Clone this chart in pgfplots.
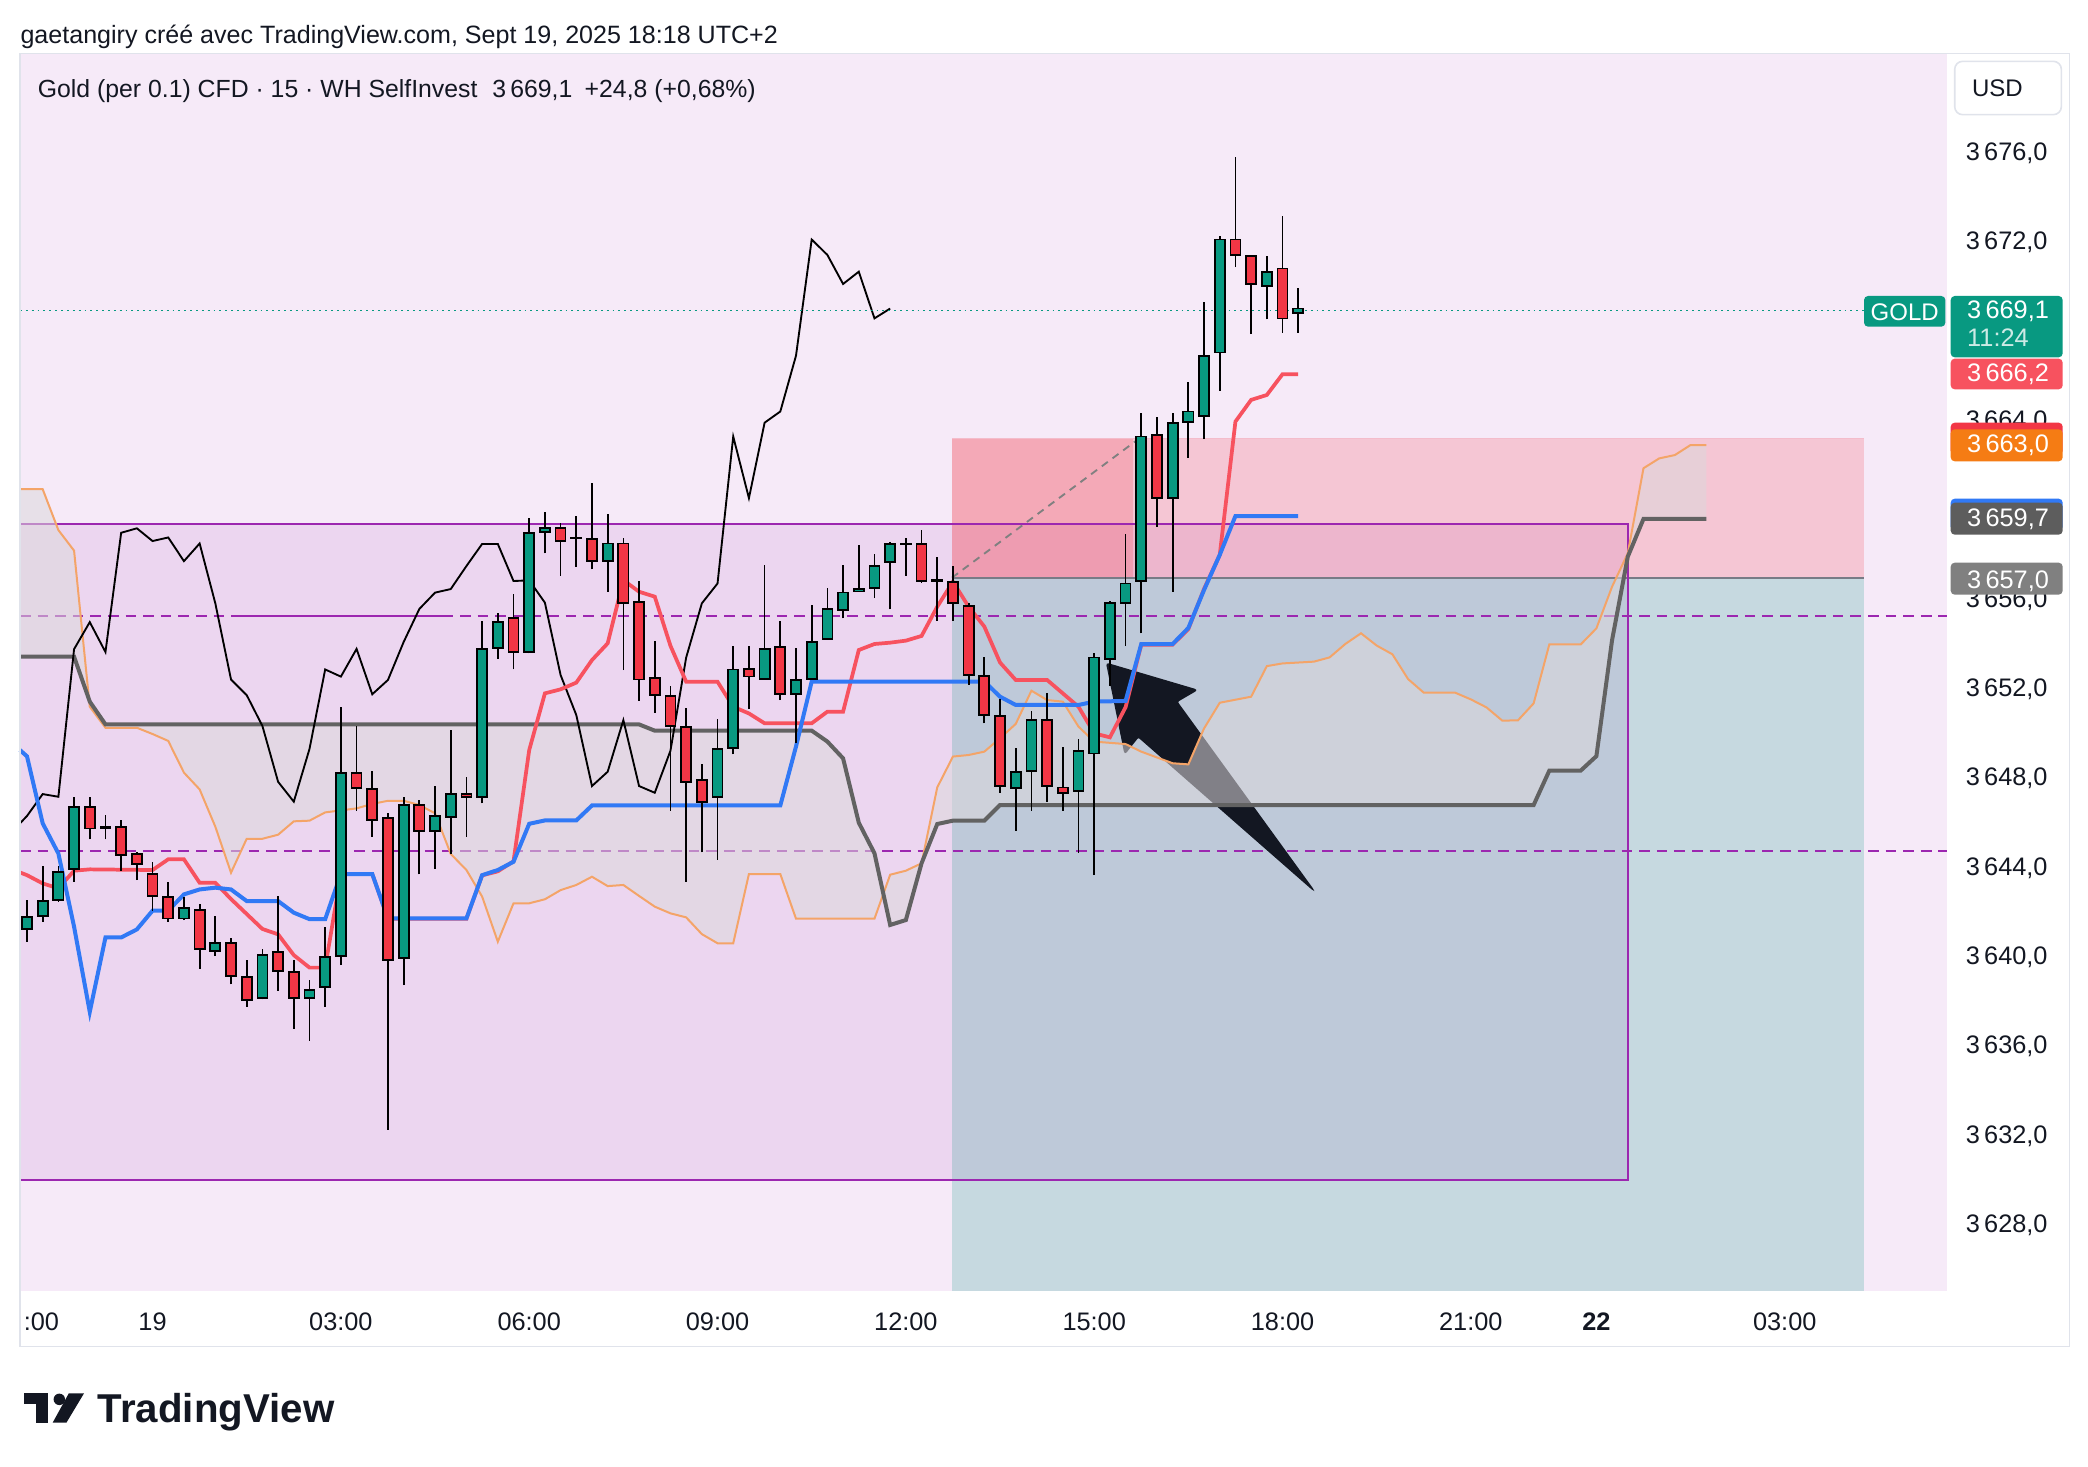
\documentclass[border=0pt]{standalone}
\usepackage{pgfplots}
\pgfplotsset{compat=1.18}
\usepackage{pgfplotstable}
\usepackage{fontspec}
\setmainfont{Liberation Sans}

\definecolor{bgpink}{RGB}{246,234,248}
\definecolor{tvgreen}{HTML}{089981}
\definecolor{tvred}{HTML}{F23645}
\definecolor{tenkan}{HTML}{F7525F}
\definecolor{kijun}{HTML}{3179F5}
\definecolor{senkA}{RGB}{244,164,104}
\definecolor{senkB}{RGB}{98,98,98}
\definecolor{purp}{HTML}{9C27B0}
\definecolor{cloudc}{RGB}{220,216,219}
\definecolor{bordgray}{RGB}{224,227,235}
\definecolor{entrygray}{HTML}{787B86}
\definecolor{tvtext}{HTML}{131722}
\definecolor{orangelab}{RGB}{245,124,20}
\definecolor{dgraylab}{RGB}{93,93,93}
\definecolor{graylab}{RGB}{128,128,128}

\newcommand{\lab}{\fontsize{9.5}{11}\selectfont}

\pgfplotstableread{
i O H L C
0 3641.27 3642.56 3640.70 3641.80
1 3641.85 3644.09 3641.59 3642.52
2 3642.56 3644.09 3642.49 3643.82
3 3643.95 3647.16 3643.39 3646.74
4 3646.74 3647.16 3645.28 3645.77
5 3645.80 3646.36 3645.28 3645.82
6 3645.85 3646.15 3643.88 3644.58
7 3644.62 3644.73 3643.46 3644.18
8 3643.74 3644.25 3642.07 3642.74
9 3642.70 3643.36 3641.59 3641.74
10 3641.74 3642.71 3641.67 3642.22
11 3642.13 3642.39 3639.48 3640.37
12 3640.28 3641.85 3640.06 3640.65
13 3640.65 3640.86 3638.79 3639.16
14 3639.13 3639.88 3637.79 3638.09
15 3638.19 3640.37 3638.12 3640.12
16 3640.25 3642.74 3638.51 3639.39
17 3639.36 3639.88 3636.80 3638.19
18 3638.19 3638.98 3636.27 3638.53
19 3638.68 3641.37 3637.79 3640.03
20 3640.06 3651.19 3639.65 3648.24
21 3648.24 3650.36 3646.56 3647.59
22 3647.55 3648.34 3645.40 3646.15
23 3646.25 3646.45 3632.27 3639.88
24 3639.98 3647.16 3638.76 3646.82
25 3646.82 3647.04 3643.71 3645.65
26 3645.65 3647.67 3643.97 3646.33
27 3646.27 3650.18 3644.62 3647.31
28 3647.31 3648.09 3645.40 3647.19
29 3647.19 3655.06 3646.89 3653.80
30 3653.86 3655.43 3653.38 3655.01
31 3655.21 3656.25 3652.89 3653.67
32 3653.67 3659.65 3653.61 3659.01
33 3659.06 3659.92 3658.09 3659.21
34 3659.24 3659.43 3657.09 3658.64
35 3658.78 3659.76 3657.49 3658.80
36 3658.73 3661.22 3657.37 3657.74
37 3657.74 3659.83 3656.37 3658.53
38 3658.53 3658.76 3652.86 3655.85
39 3655.92 3656.85 3651.49 3652.44
40 3652.52 3654.16 3650.95 3651.74
41 3651.70 3652.15 3646.56 3650.36
42 3650.33 3651.15 3643.38 3647.86
43 3647.94 3648.64 3644.70 3646.97
44 3647.19 3650.65 3644.38 3649.33
45 3649.38 3653.94 3649.09 3652.89
46 3652.91 3653.94 3651.11 3652.57
47 3652.45 3657.57 3652.42 3653.81
48 3653.91 3655.06 3651.52 3651.78
49 3651.78 3653.84 3649.58 3652.42
50 3652.45 3655.78 3652.42 3654.12
51 3654.27 3656.52 3654.24 3655.60
52 3655.55 3657.57 3655.18 3656.33
53 3656.38 3658.47 3656.38 3656.49
54 3656.55 3658.06 3656.08 3657.52
55 3657.69 3658.61 3655.58 3658.51
56 3658.49 3658.76 3657.09 3658.51
57 3658.51 3659.14 3656.78 3656.85
58 3656.86 3657.94 3655.08 3656.88
59 3656.82 3657.54 3655.08 3655.88
60 3655.73 3655.85 3652.20 3652.64
61 3652.60 3653.44 3650.48 3650.85
62 3650.80 3651.55 3647.37 3647.67
63 3647.59 3649.36 3645.67 3648.31
64 3648.36 3651.04 3646.57 3650.62
65 3650.62 3651.85 3646.97 3647.67
66 3647.61 3649.43 3646.57 3647.37
67 3647.45 3649.76 3644.68 3649.25
68 3649.13 3653.64 3643.68 3653.42
69 3653.36 3655.95 3652.16 3655.85
70 3655.88 3658.95 3653.94 3656.74
71 3656.85 3664.36 3654.51 3663.32
72 3663.39 3664.21 3659.29 3660.56
73 3660.56 3664.36 3656.38 3663.94
74 3663.96 3665.75 3662.38 3664.44
75 3664.24 3669.33 3663.20 3666.94
76 3667.08 3672.32 3665.38 3672.14
77 3672.14 3675.82 3670.90 3671.45
78 3671.41 3671.41 3667.90 3670.15
79 3670.06 3671.42 3668.57 3670.70
80 3670.84 3673.21 3667.97 3668.61
81 3668.85 3669.96 3667.97 3669.05
}\candles

\begin{document}
\begin{tikzpicture}
\useasboundingbox (0,0) rectangle (783pt,549.75pt);
\fill[white] (0,0) rectangle (783pt,549.75pt);

\begin{axis}[
  at={(7.5pt,65.75pt)}, anchor=south west,
  scale only axis, width=722.5pt, height=464pt,
  xmin=-0.446, xmax=122.32, ymin=3625.075, ymax=3680.478,
  axis line style={draw=none},
  axis background/.style={fill=bgpink},
  clip=false,
  tick style={draw=none},
  ytick={3628,3632,3636,3640,3644,3648,3652,3656,3664,3672,3676},
  yticklabel pos=right,
  yticklabels={{3\,628,0},{3\,632,0},{3\,636,0},{3\,640,0},{3\,644,0},{3\,648,0},{3\,652,0},{3\,656,0},{3\,664,0},{3\,672,0},{3\,676,0}},
  yticklabel style={anchor=west, inner sep=0pt, xshift=7pt, font=\lab, text=tvtext},
  xtick={0.92,8,20,32,44,56,68,80,92,100,112},
  xticklabels={{:00},{19},{03:00},{06:00},{09:00},{12:00},{15:00},{18:00},{21:00},{\textbf{22}},{03:00}},
  xticklabel style={anchor=north, inner sep=0pt, yshift=-8pt, font=\lab, text=tvtext},
]
% purple rectangle fill
\addplot[draw=none, fill=purp, fill opacity=0.1] coordinates {(-0.446,3630.03) (102.0,3630.03) (102.0,3659.40) (-0.446,3659.40)} -- cycle;
% position tool zones
\addplot[draw=none, fill=tvred, fill opacity=0.2] coordinates {(58.94,3657.0) (117.06,3657.0) (117.06,3663.22) (58.94,3663.22)} -- cycle;
\addplot[draw=none, fill=tvgreen, fill opacity=0.2] coordinates {(58.94,3625.075) (117.06,3625.075) (117.06,3657.0) (58.94,3657.0)} -- cycle;
\addplot[draw=none, fill=tvred, fill opacity=0.2] coordinates {(58.94,3657.0) (70.5,3657.0) (70.5,3663.22) (58.94,3663.22)} -- cycle;
\addplot[tvred, opacity=0.25, line width=0.5pt] coordinates {(58.94,3663.22) (117.06,3663.22)};
\addplot[entrygray, line width=0.7pt] coordinates {(58.94,3657.0) (117.06,3657.0)};
% purple rectangle border
\addplot[purp, line width=0.65pt] coordinates {(-0.446,3659.40) (102.0,3659.40) (102.0,3630.03) (-0.446,3630.03)};
% dashed horizontal lines
\addplot[purp, line width=0.75pt, dash pattern=on 4pt off 2.6pt] coordinates {(-0.446,3655.3) (122.32,3655.3)};
\addplot[purp, line width=0.75pt, dash pattern=on 4pt off 2.6pt] coordinates {(-0.446,3644.77) (122.32,3644.77)};
\addplot[purp, line width=0.85pt] coordinates {(13.2,3655.3) (27.0,3655.3)};
% diagonal dashed
\addplot[graylab, line width=0.7pt, dash pattern=on 2.8pt off 2.2pt] coordinates {(58.94,3657.0) (71.0,3663.3)};
% arrow
\addplot[draw=tvtext, fill=tvtext, line width=0.5pt, rounded corners=0.8pt] coordinates {(68.8,3653.16) (74.53,3651.97) (73.26,3651.45) (81.97,3643.01) (70.81,3649.88) (69.96,3649.13)} -- cycle;
% cloud fill
\addplot[draw=none, fill=cloudc, fill opacity=0.55] coordinates {
(-0.446,3660.96) (1,3660.96) (2,3659.13) (3,3658.21) (4,3651.22) (5,3650.28) (7,3650.28) (8,3650.0) (9,3649.69) (10,3648.27) (11,3647.52) (12,3645.85) (13,3643.79) (14,3645.31) (15,3645.31) (16,3645.49) (17,3646.09) (18,3646.12) (19,3646.49) (21,3646.67) (22,3646.87) (23,3647.01) (24,3647.01) (25,3646.82) (26,3646.45) (27,3644.63) (28,3643.91) (29,3642.72) (30,3640.70) (31,3642.42) (32,3642.42) (33,3642.60) (34,3643.01) (35,3643.24) (36,3643.61) (37,3643.19) (38,3643.24) (39,3642.75) (40,3642.27) (41,3641.97) (42,3641.79) (43,3641.04) (44,3640.63) (45,3640.63) (46,3643.73) (48,3643.73) (49,3641.73) (54,3641.73) (55,3643.70) (56,3643.88) (57,3644.21) (58,3647.61) (59,3648.99) (60,3649.06) (61,3649.21) (62,3649.81) (63,3650.45) (64,3651.94) (65,3651.52) (66,3651.45) (67,3650.33) (68,3649.66) (70,3649.55) (71,3649.21) (73,3648.69) (74,3648.64) (75,3650.25) (76,3651.40) (78,3651.67) (79,3653.04) (80,3653.16) (82,3653.24) (83,3653.43) (84,3654.03) (85,3654.51) (86,3653.96) (87,3653.57) (88,3652.46) (89,3651.85) (91,3651.85) (92,3651.55) (93,3651.19) (94,3650.60) (95,3650.61) (96,3651.37) (97,3654.01) (99,3654.01) (100,3654.73) (101,3656.60) (102,3658.09) (103,3661.90) (104,3662.34) (105,3662.49) (106,3662.94) (107,3662.94)
(107,3659.63) (103,3659.63) (102,3657.94) (101,3654.21) (100,3649.01) (99,3648.36) (97,3648.36) (96,3646.82) (62,3646.82) (61,3646.12) (59,3646.12) (58,3645.97) (57,3644.21) (56,3641.67) (55,3641.45) (54,3644.66) (53,3646.03) (52,3648.91) (51,3649.66) (50,3650.15) (40,3650.15) (39,3650.43) (5,3650.43) (4,3651.45) (3,3653.46) (-0.446,3653.46)
} -- cycle;
% senkou A (orange)
\addplot[senkA, line width=0.75pt] coordinates {
(-0.446,3660.96) (1,3660.96) (2,3659.13) (3,3658.21) (4,3651.22) (5,3650.28) (7,3650.28) (8,3650.0) (9,3649.69) (10,3648.27) (11,3647.52) (12,3645.85) (13,3643.79) (14,3645.31) (15,3645.31) (16,3645.49) (17,3646.09) (18,3646.12) (19,3646.49) (21,3646.67) (22,3646.87) (23,3647.01) (24,3647.01) (25,3646.82) (26,3646.45) (27,3644.63) (28,3643.91) (29,3642.72) (30,3640.70) (31,3642.42) (32,3642.42) (33,3642.60) (34,3643.01) (35,3643.24) (36,3643.61) (37,3643.19) (38,3643.24) (39,3642.75) (40,3642.27) (41,3641.97) (42,3641.79) (43,3641.04) (44,3640.63) (45,3640.63) (46,3643.73) (48,3643.73) (49,3641.73) (54,3641.73) (55,3643.70) (56,3643.88) (57,3644.21) (58,3647.61) (59,3648.99) (60,3649.06) (61,3649.21) (62,3649.81) (63,3650.45) (64,3651.94) (65,3651.52) (66,3651.45) (67,3650.33) (68,3649.66) (70,3649.55) (71,3649.21) (73,3648.69) (74,3648.64) (75,3650.25) (76,3651.40) (78,3651.67) (79,3653.04) (80,3653.16) (82,3653.24) (83,3653.43) (84,3654.03) (85,3654.51) (86,3653.96) (87,3653.57) (88,3652.46) (89,3651.85) (91,3651.85) (92,3651.55) (93,3651.19) (94,3650.60) (95,3650.61) (96,3651.37) (97,3654.01) (99,3654.01) (100,3654.73) (101,3656.60) (102,3658.09) (103,3661.90) (104,3662.34) (105,3662.49) (106,3662.94) (107,3662.94)};
% senkou B (gray)
\addplot[senkB, line width=1.5pt] coordinates {
(-0.446,3653.46) (3,3653.46) (4,3651.45) (5,3650.43) (39,3650.43) (40,3650.15) (50,3650.15) (51,3649.66) (52,3648.91) (53,3646.03) (54,3644.66) (55,3641.45) (56,3641.67) (57,3644.21) (58,3645.97) (59,3646.12) (61,3646.12) (62,3646.82) (96,3646.82) (97,3648.36) (99,3648.36) (100,3649.01) (101,3654.21) (102,3657.94) (103,3659.63) (107,3659.63)};
% chikou (black)
\addplot[black, line width=0.7pt] coordinates {
(-0.446,3646.0) (0,3646.33) (1,3647.31) (2,3647.19) (3,3653.80) (4,3655.01) (5,3653.67) (6,3659.01) (7,3659.21) (8,3658.64) (9,3658.80) (10,3657.74) (11,3658.53) (12,3655.85) (13,3652.44) (14,3651.74) (15,3650.36) (16,3647.86) (17,3646.97) (18,3649.33) (19,3652.89) (20,3652.57) (21,3653.81) (22,3651.78) (23,3652.42) (24,3654.12) (25,3655.60) (26,3656.33) (27,3656.49) (28,3657.52) (29,3658.51) (30,3658.51) (31,3656.85) (32,3656.88) (33,3655.88) (34,3652.64) (35,3650.85) (36,3647.67) (37,3648.31) (38,3650.62) (39,3647.67) (40,3647.37) (41,3649.25) (42,3653.42) (43,3655.85) (44,3656.74) (45,3663.32) (46,3660.56) (47,3663.94) (48,3664.44) (49,3666.94) (50,3672.14) (51,3671.45) (52,3670.15) (53,3670.70) (54,3668.61) (55,3669.05)};
% tenkan (red)
\addplot[tenkan, line width=1.4pt] coordinates {
(-0.446,3643.80) (0,3643.68) (1,3643.31) (2,3643.09) (3,3643.88) (4,3643.94) (8,3643.91) (9,3644.39) (10,3644.39) (11,3643.34) (12,3643.34) (13,3642.61) (14,3641.94) (15,3641.27) (16,3641.03) (17,3640.10) (18,3639.54) (19,3639.54) (20,3643.73) (22,3643.73) (23,3641.73) (28,3641.73) (29,3643.67) (30,3643.85) (31,3644.30) (32,3649.28) (33,3651.82) (34,3652.0) (35,3652.30) (36,3653.31) (37,3654.06) (38,3656.89) (39,3656.37) (40,3656.15) (41,3653.95) (42,3652.34) (44,3652.34) (45,3651.22) (46,3650.92) (47,3650.48) (50,3650.48) (51,3651.0) (52,3651.0) (53,3653.76) (54,3654.03) (55,3654.09) (56,3654.18) (57,3654.39) (58,3655.70) (59,3656.82) (60,3655.70) (61,3654.81) (62,3653.20) (63,3652.42) (65,3652.42) (66,3651.82) (67,3651.22) (68,3650.03) (69,3649.85) (70,3651.2) (71,3654.0) (73,3654.0) (74,3654.7) (75,3656.5) (76,3658.02) (77,3663.99) (78,3664.96) (79,3665.18) (80,3666.11) (81,3666.11)};
% kijun (blue)
\addplot[kijun, line width=1.5pt] coordinates {
(-0.446,3649.28) (0,3649.0) (1,3646.0) (2,3644.65) (3,3641.37) (4,3637.56) (5,3640.89) (6,3640.89) (7,3641.25) (8,3642.09) (9,3642.09) (10,3642.82) (11,3643.04) (12,3643.12) (13,3643.04) (14,3642.52) (16,3642.52) (17,3642.0) (18,3641.71) (19,3641.71) (20,3643.73) (22,3643.73) (23,3641.74) (28,3641.74) (29,3643.68) (30,3643.91) (31,3644.28) (32,3645.98) (33,3646.13) (35,3646.13) (36,3646.80) (48,3646.80) (49,3649.44) (50,3652.35) (61,3652.35) (62,3651.67) (63,3651.30) (67,3651.30) (68,3651.45) (70,3651.48) (71,3654.03) (73,3654.03) (74,3654.75) (75,3656.45) (76,3658.02) (77,3659.76) (81,3659.76)};
% current price dotted line
\addplot[tvgreen, line width=0.7pt, dash pattern=on 0.7pt off 1.5pt] coordinates {(-0.446,3668.96) (117.06,3668.96)};
% candles
\pgfplotstablegetrowsof{\candles}
\pgfmathtruncatemacro{\lastrow}{\pgfplotsretval-1}
\pgfplotsforeachungrouped \rowi in {0,...,\lastrow}{%
  \pgfplotstablegetelem{\rowi}{i}\of\candles \let\ci\pgfplotsretval
  \pgfplotstablegetelem{\rowi}{O}\of\candles \let\co\pgfplotsretval
  \pgfplotstablegetelem{\rowi}{H}\of\candles \let\ch\pgfplotsretval
  \pgfplotstablegetelem{\rowi}{L}\of\candles \let\cl\pgfplotsretval
  \pgfplotstablegetelem{\rowi}{C}\of\candles \let\cc\pgfplotsretval
  \pgfmathsetmacro{\xl}{\ci-0.32}%
  \pgfmathsetmacro{\xr}{\ci+0.32}%
  \pgfmathparse{\cc>=\co ? 1 : 0}%
  \ifdim\pgfmathresult pt>0.5pt \def\col{tvgreen}\else\def\col{tvred}\fi
  \edef\temp{\noexpand\addplot[line width=0.65pt, black] coordinates {(\ci,\cl) (\ci,\ch)};
    \noexpand\addplot[line width=0.65pt, draw=black, fill=\col] coordinates {(\xl,\co) (\xr,\co) (\xr,\cc) (\xl,\cc)} -- cycle;}%
  \temp
}
\end{axis}

\begin{scope}[x=0.5pt,y=-0.5pt,shift={(0,549.75pt)}]
  % panel border
  \draw[bordgray, line width=0.6pt] (15,40) rectangle (1552,1010);
  % header
  \node[anchor=base west, inner sep=0pt, font=\fontsize{9.4}{11}\selectfont, text=tvtext] at (15,33) {gaetangiry créé avec TradingView.com, Sept 19, 2025 18:18 UTC+2};
  % legend
  \node[anchor=base west, inner sep=0pt, font=\fontsize{9.3}{11}\selectfont, text=tvtext] at (28,73) {Gold (per 0.1) CFD · 15 · WH SelfInvest\hspace{0.6em}3\,669,1\hspace{0.5em}+24,8 (+0,68\%)};
  % USD box
  \draw[bordgray, fill=white, line width=0.6pt, rounded corners=3pt] (1466,46) rectangle (1546,86);
  \node[inner sep=0pt, font=\fontsize{9}{11}\selectfont, text=tvtext] at (1498,66) {USD};
  % price labels
  \fill[tvgreen, rounded corners=1.5pt] (1398,222) rectangle (1459,245);
  \node[inner sep=0pt, font=\fontsize{9}{11}\selectfont, text=white] at (1428.5,234) {GOLD};
  \fill[tvgreen, rounded corners=1.5pt] (1463,222) rectangle (1547,268);
  \node[anchor=base west, inner sep=0pt, font=\lab, text=white] at (1475,239) {3\,669,1};
  \node[anchor=base west, inner sep=0pt, font=\lab, text=white, opacity=0.8] at (1475,260) {11:24};
  \fill[tenkan, rounded corners=1.5pt] (1463,269) rectangle (1547,292);
  \node[anchor=base west, inner sep=0pt, font=\lab, text=white] at (1475,286) {3\,666,2};
  \fill[tvred, rounded corners=1.5pt] (1463,317) rectangle (1547,341);
  \fill[orangelab, rounded corners=1.5pt] (1463,322) rectangle (1547,346);
  \node[anchor=base west, inner sep=0pt, font=\lab, text=white] at (1475,339) {3\,663,0};
  \fill[kijun, rounded corners=1.5pt] (1463,374) rectangle (1547,398);
  \fill[dgraylab, rounded corners=1.5pt] (1463,377) rectangle (1547,401);
  \node[anchor=base west, inner sep=0pt, font=\lab, text=white] at (1475,395) {3\,659,7};
  \fill[graylab, rounded corners=1.5pt] (1463,422) rectangle (1547,446);
  \node[anchor=base west, inner sep=0pt, font=\lab, text=white] at (1475,441) {3\,657,0};
  % logo
  \fill[tvtext] (18,1045) rectangle (36,1053);
  \fill[tvtext] (27,1045) rectangle (36,1067);
  \fill[tvtext] (44.5,1049.5) circle (4.3);
  \fill[tvtext] (51.6,1045) -- (63,1045) -- (49.8,1067) -- (39.5,1067) -- cycle;
  \node[anchor=base west, inner sep=0pt, font=\fontsize{15.1}{18}\selectfont\bfseries, text=tvtext] at (73,1067) {TradingView};
\end{scope}
\end{tikzpicture}
\end{document}
